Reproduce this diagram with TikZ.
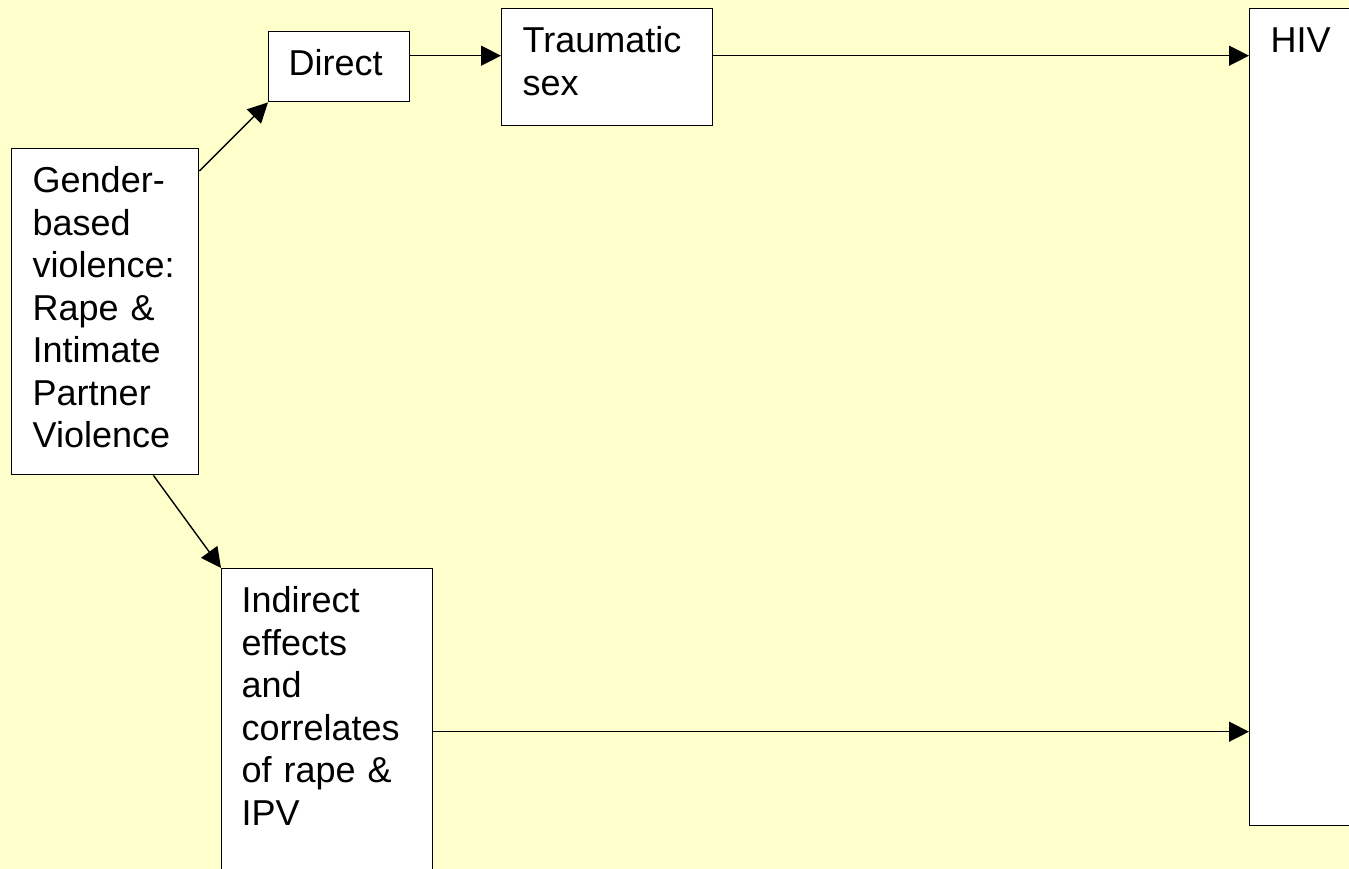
\documentclass[tikz,border=0pt]{standalone}
\usepackage{fontspec}
\setmainfont{Liberation Sans}
\usetikzlibrary{arrows.meta}
\definecolor{bgyellow}{RGB}{255,255,204}

\begin{document}
\begin{tikzpicture}
    [x = 1pt, y = -1pt, >={Triangle[length=20pt,width=20pt]},
     box/.style = {draw, fill = white, line width = 1.4pt, anchor = north west,
       align = left, inner ysep = 0pt, text height = 44pt,
       font = \fontsize{36}{42.5}\selectfont},
     link/.style = {->, line width = 1.4pt}]
    \fill[bgyellow] (0,0) rectangle (1349,869);
    \useasboundingbox (0,0) rectangle (1349,869);
    \node[box, inner xsep = 21pt, text width = 145pt, text depth = 282pt] (gbv) at (11,148)
      {Gender-\\based\\violence:\\Rape \&\\Intimate\\Partner\\Violence};
    \node[box, inner xsep = 20pt, text width = 101pt, text depth = 26pt] (direct) at (268,31) {Direct};
    \node[box, inner xsep = 21pt, text width = 169pt, text depth = 73pt] (trauma) at (501,8) {Traumatic\\sex};
    \node[box, inner xsep = 21pt, text width = 88pt, text depth = 773pt] (hiv) at (1249,8) {HIV};
    \node[box, inner xsep = 20pt, text width = 171pt, text depth = 282pt] (indirect) at (221,568)
      {Indirect\\effects\\and\\correlates\\of rape \&\\IPV};
    \coordinate (top) at ([yshift=11pt]direct.east);
    \draw[link] ([yshift=-23pt]gbv.north east) -- (direct.south west);
    \draw[link] ([xshift=-46pt]gbv.south east) -- (indirect.north west);
    \draw[link] (top) -- (top -| trauma.west);
    \draw[link] (top -| trauma.east) -- (top -| hiv.west);
    \draw[link] (indirect.east) -- (indirect.east -| hiv.west);
\end{tikzpicture}
\end{document}
